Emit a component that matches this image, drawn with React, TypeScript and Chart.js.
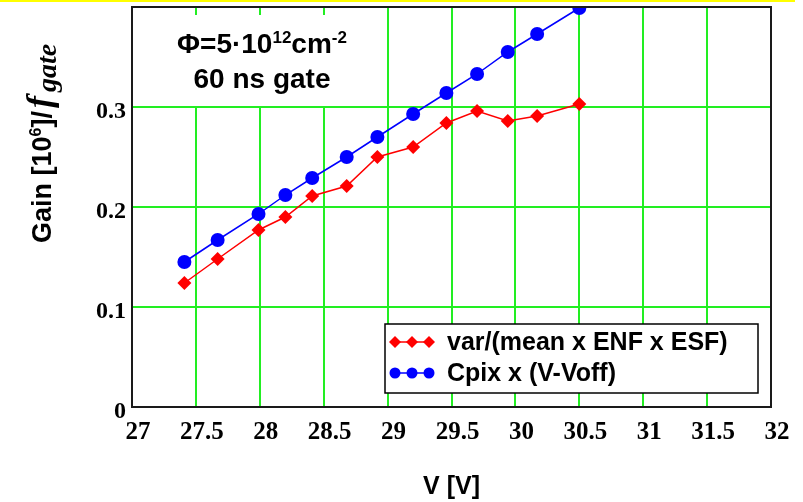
import React, { useEffect, useRef } from 'react';
import { Chart, registerables } from 'chart.js';

Chart.register(...registerables);

// ---- data ----
const voltage = [27.41, 27.67, 27.99, 28.2, 28.41, 28.68, 28.92, 29.2, 29.46, 29.7, 29.94, 30.17, 30.5];
const gainVar = [0.124, 0.148, 0.177, 0.19, 0.211, 0.221, 0.25, 0.26, 0.284, 0.296, 0.286, 0.291, 0.303];
const gainCpix = [0.145, 0.167, 0.193, 0.212, 0.229, 0.25, 0.27, 0.293, 0.314, 0.333, 0.355, 0.373, 0.399];
const seriesLabels = ['var/(mean x ENF x ESF)', 'Cpix x (V-Voff)'];
const xTickValues = [27, 27.5, 28, 28.5, 29, 29.5, 30, 30.5, 31, 31.5, 32];
const xTickLabels = ['27', '27.5', '28', '28.5', '29', '29.5', '30', '30.5', '31', '31.5', '32'];
const yTickValues = [0, 0.1, 0.2, 0.3, 0.4];
const yTickLabels = ['0', '0.1', '0.2', '0.3', ''];

const SERIF = '"Liberation Serif", "Times New Roman", serif';
const SANS = '"Liberation Sans", Arial, sans-serif';
const RED = '#ff0000';
const BLUE = '#0000ff';
const GRID = '#22ee22';

type Part = { t: string; font: string; dy: number; gap?: number };

function drawParts(ctx: CanvasRenderingContext2D, parts: Part[], x: number, y: number, align: 'left' | 'center') {
  let total = 0;
  const widths = parts.map((p) => {
    ctx.font = p.font;
    const w = ctx.measureText(p.t).width + (p.gap || 0);
    total += w;
    return w;
  });
  let cx = align === 'center' ? x - total / 2 : x;
  parts.forEach((p, i) => {
    ctx.font = p.font;
    ctx.fillText(p.t, cx, y + p.dy);
    cx += widths[i];
  });
}

function diamond(ctx: CanvasRenderingContext2D, x: number, y: number, r: number) {
  ctx.beginPath();
  ctx.moveTo(x, y - r);
  ctx.lineTo(x + r, y);
  ctx.lineTo(x, y + r);
  ctx.lineTo(x - r, y);
  ctx.closePath();
  ctx.fill();
}

const decor = {
  id: 'decor',
  beforeDatasetsDraw(chart: any) {
    const { ctx, chartArea: a } = chart;
    ctx.save();
    ctx.fillStyle = '#ffffff';
    ctx.fillRect(a.left + 1, a.top + 8, 248, 91);
    ctx.fillStyle = '#000000';
    ctx.textBaseline = 'alphabetic';
    ctx.textAlign = 'left';
    const big = `bold 28px ${SANS}`;
    const sup = `bold 17px ${SANS}`;
    drawParts(
      ctx,
      [
        { t: 'Φ=5·10', font: big, dy: 0 },
        { t: '12', font: sup, dy: -10 },
        { t: 'cm', font: big, dy: 0 },
        { t: '-2', font: sup, dy: -10 },
      ],
      262,
      a.top + 46,
      'center'
    );
    drawParts(ctx, [{ t: '60 ns gate', font: big, dy: 0 }], 262, a.top + 81, 'center');
    ctx.restore();
  },
  afterDraw(chart: any) {
    const { ctx, chartArea: a } = chart;
    ctx.save();
    // frame
    ctx.strokeStyle = '#1a1a1a';
    ctx.lineWidth = 2;
    ctx.strokeRect(a.left, a.top, a.right - a.left, a.bottom - a.top);

    // legend
    const bx = a.right - 386;
    const by = a.bottom - 83;
    const bw = 373;
    const bh = 69;
    ctx.fillStyle = '#ffffff';
    ctx.fillRect(bx, by, bw, bh);
    ctx.strokeStyle = '#000000';
    ctx.lineWidth = 1.5;
    ctx.strokeRect(bx, by, bw, bh);
    const rows = [
      { y: by + 18, color: RED, shape: 'd' },
      { y: by + 49, color: BLUE, shape: 'c' },
    ];
    rows.forEach((r, i) => {
      ctx.strokeStyle = r.color;
      ctx.fillStyle = r.color;
      ctx.lineWidth = 1.5;
      ctx.beginPath();
      ctx.moveTo(bx + 6, r.y);
      ctx.lineTo(bx + 47, r.y);
      ctx.stroke();
      [bx + 10, bx + 27, bx + 44].forEach((mx) => {
        if (r.shape === 'd') diamond(ctx, mx, r.y, 6);
        else {
          ctx.beginPath();
          ctx.arc(mx, r.y, 5.5, 0, Math.PI * 2);
          ctx.fill();
        }
      });
      ctx.fillStyle = '#000000';
      ctx.font = `bold 25px ${SANS}`;
      ctx.textBaseline = 'alphabetic';
      ctx.textAlign = 'left';
      ctx.fillText(seriesLabels[i], bx + 62, r.y + 8);
    });
    ctx.restore();

    // y-axis title
    ctx.save();
    ctx.translate(51, 243);
    ctx.rotate(-Math.PI / 2);
    ctx.fillStyle = '#000000';
    ctx.textAlign = 'left';
    ctx.textBaseline = 'alphabetic';
    const main = `bold 27px ${SANS}`;
    drawParts(
      ctx,
      [
        { t: 'Gain [10', font: main, dy: 0 },
        { t: '6', font: `bold 16px ${SANS}`, dy: -10 },
        { t: ']/', font: main, dy: 0, gap: 3 },
        { t: 'f', font: `italic bold 36px ${SERIF}`, dy: 0, gap: 4 },
        { t: 'gate', font: `italic bold 28px ${SERIF}`, dy: 5 },
      ],
      0,
      0,
      'left'
    );
    ctx.restore();

    // yellow top line
    ctx.save();
    ctx.fillStyle = '#ffff00';
    ctx.fillRect(0, 0, 795, 2);
    ctx.restore();
  },
};

export default function App() {
  const ref = useRef<HTMLCanvasElement>(null);
  useEffect(() => {
    document.body.style.margin = '0';
    if (!ref.current) return;
    const chart = new Chart(ref.current, {
      type: 'scatter',
      data: {
        datasets: [
          {
            label: seriesLabels[0],
            data: voltage.map((v, i) => ({ x: v, y: gainVar[i] })),
            showLine: true,
            borderColor: RED,
            backgroundColor: RED,
            borderWidth: 1.5,
            pointStyle: 'rectRot',
            pointRadius: 7,
            pointBorderWidth: 0,
            clip: 0,
          },
          {
            label: seriesLabels[1],
            data: voltage.map((v, i) => ({ x: v, y: gainCpix[i] })),
            showLine: true,
            borderColor: BLUE,
            backgroundColor: BLUE,
            borderWidth: 1.5,
            pointStyle: 'circle',
            pointRadius: 7,
            pointBorderWidth: 0,
            clip: 0,
          },
        ],
      },
      options: {
        animation: false,
        responsive: false,
        devicePixelRatio: 1,
        layout: { padding: { top: 7, right: 32, left: 0, bottom: 0 } },
        plugins: { legend: { display: false }, tooltip: { enabled: false } },
        scales: {
          x: {
            type: 'linear',
            min: 27,
            max: 32,
            afterBuildTicks: (s: any) => {
              s.ticks = xTickValues.map((v) => ({ value: v }));
            },
            afterFit: (s: any) => {
              s.height = 95;
              s.paddingLeft = 0;
              s.paddingRight = 0;
            },
            grid: { color: GRID, lineWidth: 2, drawTicks: false },
            border: { display: false },
            ticks: {
              padding: 11,
              labelOffset: 6,
              color: '#000',
              maxRotation: 0,
              autoSkip: false,
              font: { family: SERIF, size: 25, weight: 'bold' },
              callback: (v: any) => {
                const i = xTickValues.findIndex((t) => Math.abs(t - Number(v)) < 1e-6);
                return i >= 0 ? xTickLabels[i] : '';
              },
            },
            title: {
              display: true,
              text: 'V [V]',
              color: '#000',
              font: { family: SANS, size: 25, weight: 'bold' },
              padding: { top: 0, bottom: 0 },
            },
          },
          y: {
            type: 'linear',
            min: 0,
            max: 0.4,
            afterBuildTicks: (s: any) => {
              s.ticks = yTickValues.map((v) => ({ value: v }));
            },
            afterFit: (s: any) => {
              s.width = 132;
              s.paddingTop = 0;
              s.paddingBottom = 0;
            },
            grid: { color: GRID, lineWidth: 2, drawTicks: false },
            border: { display: false },
            ticks: {
              padding: 6,
              labelOffset: 5,
              color: '#000',
              autoSkip: false,
              font: { family: SERIF, size: 24, weight: 'bold' },
              callback: (v: any) => {
                const i = yTickValues.findIndex((t) => Math.abs(t - Number(v)) < 1e-6);
                return i >= 0 ? yTickLabels[i] : '';
              },
            },
          },
        },
      },
      plugins: [decor],
    });
    return () => chart.destroy();
  }, []);
  return (
    <div style={{ width: 803, height: 502, background: '#fff' }}>
      <canvas ref={ref} width={803} height={502} style={{ display: 'block', width: 803, height: 502 }} />
    </div>
  );
}
